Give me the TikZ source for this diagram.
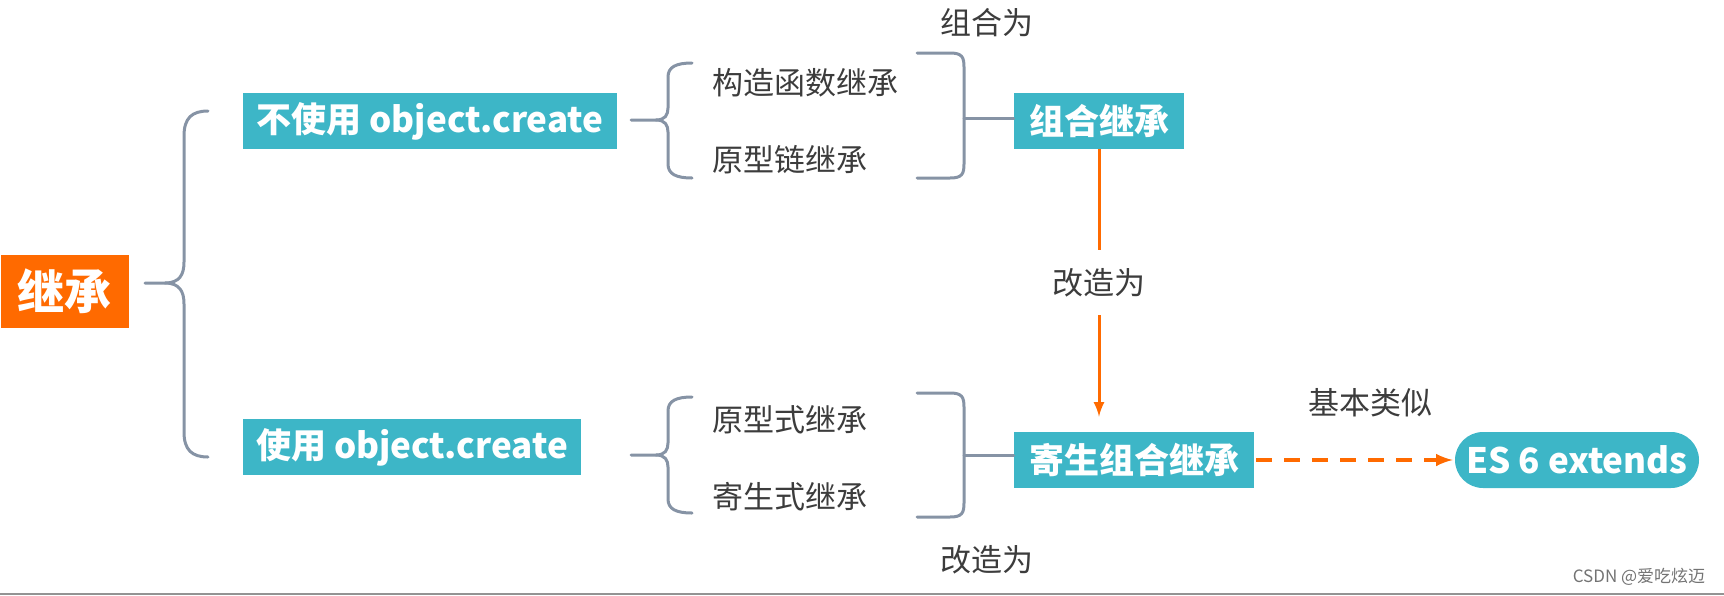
\documentclass[tikz,border=0pt]{standalone}
\usepackage{fontspec}
\setmainfont{Noto Sans CJK SC}
\usetikzlibrary{arrows}
\definecolor{boxteal}{HTML}{3DB6C7}
\definecolor{mainorange}{HTML}{FF6A00}
\definecolor{bracegray}{HTML}{8693A5}
\definecolor{labelgray}{HTML}{3C3C3C}

\begin{document}
\begin{tikzpicture}[x=0.5pt, y=-0.5pt,
	tealbox/.style={fill=boxteal, text=white, font=\fontsize{17.5}{20}\selectfont\bfseries, minimum height=28pt, inner sep=0pt},
	lbl/.style={text=labelgray, font=\fontsize{15.5}{18}\selectfont, inner sep=0pt},
	brace/.style={bracegray, line width=1.5pt, line cap=round}]
				\useasboundingbox (0,0) rectangle (1724,595);
				\fill [gray!85] (0,593) rectangle (1724,595);
				% boxes
				\node [fill=mainorange, text=white, font=\fontsize{23.5}{26}\selectfont\bfseries, minimum width=64pt, minimum height=36.5pt, inner sep=0pt] (jicheng) at (65,291.5) {继承};
				\node [tealbox, minimum width=187pt] (nouse) at (430,121) {不使用 object.create};
				\node [tealbox, minimum width=169pt] (use) at (412,447) {使用 object.create};
				\node [tealbox, minimum width=85pt] (zuhe) at (1099,120.5) {组合继承};
				\node [tealbox, minimum width=120pt] (jisheng) at (1134,460) {寄生组合继承};
				\node [tealbox, minimum width=122pt, rounded corners=14pt] (es6) at (1577,460) {ES 6 extends};
				% labels
				\node [lbl, anchor=west] (gouzao) at (712,83) {构造函数继承};
				\node [lbl, anchor=west] (yuanxinglian) at (712,160) {原型链继承};
				\node [lbl, anchor=west] (yuanxingshi) at (712,420) {原型式继承};
				\node [lbl, anchor=west] (jishengshi) at (712,497) {寄生式继承};
				\node [lbl] (zuhewei) at (987,23) {组合为};
				\node [lbl] (gaizao) at (987,560) {改造为};
				\node [lbl] (jiben) at (1370,403) {基本类似};
				\node [text=gray!90!black, font=\fontsize{8.5}{10}\selectfont, inner sep=0pt] (csdn) at (1639,577) {CSDN @爱吃炫迈};
				% braces
				\draw [brace] (145,283) -- (165,283) .. controls (180,283) and (184,274) .. (184,262) -- (184,136) .. controls (184,118) and (192,111) .. (208,111);
				\draw [brace] (165,283) .. controls (180,283) and (184,292) .. (184,304) -- (184,432) .. controls (184,450) and (192,457) .. (208,457);
				\foreach \ym/\yt/\yb in {120/63/178, 455/397/513} {
					\draw [brace] (631,\ym) -- (656,\ym) .. controls (665,\ym) and (668,\ym-5) .. (668,\ym-12) -- (668,\yt+14) .. controls (668,\yt+4) and (676,\yt) .. (692,\yt);
					\draw [brace] (656,\ym) .. controls (665,\ym) and (668,\ym+5) .. (668,\ym+12) -- (668,\yb-14) .. controls (668,\yb-4) and (676,\yb) .. (692,\yb);
				}
				\foreach \ym/\yt/\yb in {118/53/178, 455/393/517}
					\draw [brace] (917,\yt) -- (950,\yt) .. controls (962,\yt) and (964,\yt+4) .. (964,\yt+14) -- (964,\yb-14) .. controls (964,\yb-4) and (962,\yb) .. (950,\yb) -- (917,\yb);
				\draw [brace] (964,118) -- (zuhe.west |- 0,118);
				\draw [brace] (964,455) -- (jisheng.west |- 0,455);
				% arrows
				\draw [mainorange, line width=1.5pt, -latex] (zuhe.south) -- node [fill=white, text=labelgray, font=\fontsize{15.5}{18}\selectfont, inner xsep=2pt, inner ysep=9pt] (gaizaomid) {改造为} ([yshift=7.5pt]zuhe.south |- jisheng.north);
				\draw [mainorange, line width=1.8pt, dash pattern=on 8pt off 6pt, -latex] ([xshift=1pt]jisheng.east) -- ([xshift=-1pt]es6.west);
			\end{tikzpicture}
\end{document}
